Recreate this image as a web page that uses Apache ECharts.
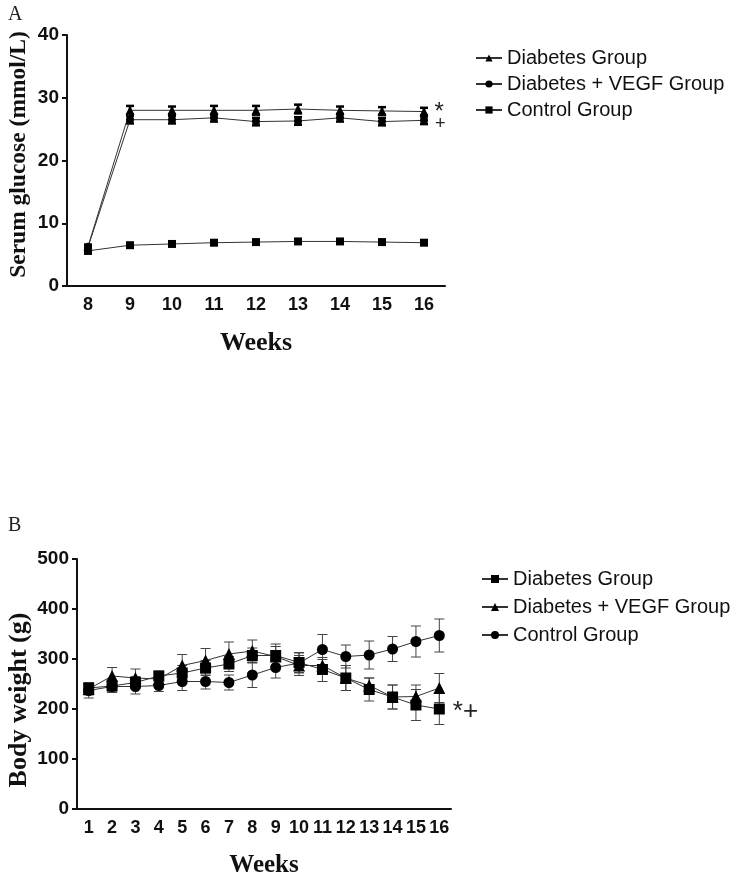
<!DOCTYPE html>
<html>
<head>
<meta charset="utf-8">
<script src="https://cdn.jsdelivr.net/npm/echarts@6/dist/echarts.min.js"></script>
<style>
  html, body { margin: 0; padding: 0; background: #fff; }
  #chart { width: 739px; height: 872px; }
</style>
</head>
<body>
<div id="chart"></div>
<script>
// panel A: serum glucose (mmol/L), weeks 8-16
const weeksA = ['8', '9', '10', '11', '12', '13', '14', '15', '16']
const glucDiab = [6.3, 28.0, 28.0, 28.0, 28.0, 28.2, 28.0, 27.9, 27.8]
const glucDiabSd = [0.3, 0.7, 0.6, 0.7, 0.7, 0.7, 0.6, 0.6, 0.6]
const glucVegf = [6.2, 26.5, 26.5, 26.8, 26.2, 26.3, 26.8, 26.2, 26.4]
const glucVegfSd = [0.3, 0.6, 0.6, 0.6, 0.6, 0.6, 0.6, 0.6, 0.6]
const glucCtrl = [5.6, 6.5, 6.7, 6.9, 7.0, 7.1, 7.1, 7.0, 6.9]
const glucCtrlSd = [0.4, 0.2, 0.2, 0.2, 0.2, 0.2, 0.2, 0.2, 0.2]

// panel B: body weight (g), weeks 1-16
const weeksB = ['1', '2', '3', '4', '5', '6', '7', '8', '9', '10', '11', '12', '13', '14', '15', '16']
const wtDiab = [242, 246, 253, 266, 272, 282, 290, 307, 307, 293, 279, 262, 239, 224, 208, 200]
const wtDiabSd = [10, 12, 12, 10, 15, 15, 15, 15, 23, 20, 24, 25, 23, 24, 31, 31]
const wtVegf = [240, 266, 262, 260, 287, 297, 310, 316, 305, 287, 287, 262, 247, 224, 225, 242]
const wtVegfSd = [12, 17, 18, 14, 22, 24, 24, 22, 20, 20, 12, 25, 15, 24, 23, 29]
const wtCtrl = [237, 245, 245, 247, 255, 255, 253, 268, 283, 292, 319, 305, 308, 320, 335, 347]
const wtCtrlSd = [15, 12, 15, 12, 18, 15, 15, 25, 21, 20, 30, 23, 28, 25, 31, 33]

const namesA = ['Diabetes Group', 'Diabetes + VEGF Group', 'Control Group']
const namesB = ['B|Diabetes Group', 'B|Diabetes + VEGF Group', 'B|Control Group']

const sans = 'Liberation Sans'
const serif = 'Liberation Serif'

function errData(vals, sd) {
  return vals.map((v, i) => [i, v - sd[i], v + sd[i]])
}

function errSeries(idx, vals, sd, capW, lw, color) {
  return {
    type: 'custom',
    xAxisIndex: idx,
    yAxisIndex: idx,
    silent: true,
    z: 1,
    data: errData(vals, sd),
    encode: { x: 0, y: [1, 2] },
    renderItem: function (params, api) {
      const lo = api.coord([api.value(0), api.value(1)])
      const hi = api.coord([api.value(0), api.value(2)])
      const st = { stroke: color, lineWidth: lw }
      return {
        type: 'group',
        children: [
          { type: 'line', shape: { x1: lo[0], y1: lo[1], x2: hi[0], y2: hi[1] }, style: st },
          { type: 'line', shape: { x1: hi[0] - capW, y1: hi[1], x2: hi[0] + capW, y2: hi[1] }, style: st },
          { type: 'line', shape: { x1: lo[0] - capW, y1: lo[1], x2: lo[0] + capW, y2: lo[1] }, style: st },
        ],
      }
    },
  }
}

// endLabel: text put right of the last point (significance marks)
function lineSeries(idx, name, vals, symbol, size, endLabel) {
  const data = vals.map((v) => v)
  if (endLabel) {
    data[data.length - 1] = {
      value: vals[vals.length - 1],
      label: Object.assign({
        show: true,
        position: 'right',
        color: '#222',
        fontFamily: sans,
      }, endLabel),
    }
  }
  return {
    name: name,
    type: 'line',
    xAxisIndex: idx,
    yAxisIndex: idx,
    data: data,
    symbol: symbol,
    symbolSize: size,
    showAllSymbol: true,
    z: 3,
    itemStyle: { color: '#000' },
    lineStyle: { color: '#333', width: 1 },
  }
}

function xAxisCfg(idx, cats, fontSize, nameSize) {
  return {
    type: 'category',
    gridIndex: idx,
    data: cats,
    boundaryGap: true,
    name: 'Weeks',
    nameLocation: 'middle',
    nameGap: 44,
    nameMoveOverlap: false,
    nameTextStyle: { fontFamily: serif, fontWeight: 'bold', fontSize: nameSize, color: '#111' },
    axisLine: { lineStyle: { color: '#111', width: 2 } },
    axisTick: { alignWithLabel: true, length: 6, lineStyle: { width: 2, color: '#111' } },
    axisLabel: { fontFamily: sans, fontWeight: 'bold', fontSize: fontSize, color: '#111', margin: 10, interval: 0 },
    splitLine: { show: false },
  }
}

function yAxisCfg(idx, name, max, interval, gap, nameSize, namePad) {
  return {
    type: 'value',
    gridIndex: idx,
    min: 0,
    max: max,
    interval: interval,
    name: name,
    nameLocation: 'middle',
    nameGap: gap,
    nameMoveOverlap: false,
    nameTextStyle: { fontFamily: serif, fontWeight: 'bold', fontSize: nameSize, color: '#111', padding: namePad },
    axisLine: { show: true, lineStyle: { color: '#111', width: 2 } },
    axisTick: { show: true, length: 5, lineStyle: { width: 2, color: '#111' } },
    axisLabel: { fontFamily: sans, fontWeight: 'bold', fontSize: 19, color: '#111', margin: 8 },
    splitLine: { show: false },
  }
}

const legendText = { fontFamily: sans, fontSize: 20, color: '#111' }

var myChart = echarts.init(document.getElementById('chart'))
let option = {
  backgroundColor: '#fff',
  animation: false,
  title: [
    { text: 'A', left: 3, top: 0, textStyle: { fontFamily: serif, fontWeight: 'normal', fontSize: 20, color: '#222' } },
    { text: 'B', left: 3, top: 511, textStyle: { fontFamily: serif, fontWeight: 'normal', fontSize: 20, color: '#222' } },
  ],
  legend: [
    {
      data: namesA,
      orient: 'vertical',
      left: 470,
      top: 43,
      itemGap: 6,
      itemWidth: 26,
      itemHeight: 9,
      textStyle: legendText,
    },
    {
      data: namesB,
      orient: 'vertical',
      left: 476,
      top: 564,
      itemGap: 8,
      itemWidth: 26,
      itemHeight: 10,
      textStyle: legendText,
      formatter: (name) => name.replace('B|', ''),
    },
  ],
  grid: [
    { left: 67, top: 35, width: 378, height: 251, containLabel: false, outerBoundsMode: 'none' },
    { left: 77, top: 559, width: 374, height: 250, containLabel: false, outerBoundsMode: 'none' },
  ],
  xAxis: [xAxisCfg(0, weeksA, 18, 26), xAxisCfg(1, weeksB, 18, 25)],
  yAxis: [
    yAxisCfg(0, 'Serum glucose (mmol/L)', 40, 10, 36, 23.5, [0, 0, 0, 12]),
    yAxisCfg(1, 'Body weight (g)', 500, 100, 45, 26, [0, 32, 0, 0]),
  ],
  series: [
    errSeries(0, glucDiab, glucDiabSd, 4, 2.5, '#000'),
    errSeries(0, glucVegf, glucVegfSd, 4, 2.5, '#000'),
    errSeries(0, glucCtrl, glucCtrlSd, 4, 2.5, '#000'),
    lineSeries(0, namesA[0], glucDiab, 'triangle', 9, { formatter: '*', fontSize: 24, distance: 6, offset: [0, 1] }),
    lineSeries(0, namesA[1], glucVegf, 'circle', 8, { formatter: '+', fontSize: 18, fontWeight: 'lighter', distance: 7, offset: [0, 4] }),
    lineSeries(0, namesA[2], glucCtrl, 'rect', 8, null),

    errSeries(1, wtDiab, wtDiabSd, 5, 1, '#444'),
    errSeries(1, wtVegf, wtVegfSd, 5, 1, '#444'),
    errSeries(1, wtCtrl, wtCtrlSd, 5, 1, '#444'),
    lineSeries(1, namesB[0], wtDiab, 'rect', 11, { formatter: '*+', fontSize: 26, distance: 8, offset: [0, 3] }),
    lineSeries(1, namesB[1], wtVegf, 'triangle', 12, null),
    lineSeries(1, namesB[2], wtCtrl, 'circle', 11, null),
  ],
}
myChart.setOption(option)
</script>
</body>
</html>
